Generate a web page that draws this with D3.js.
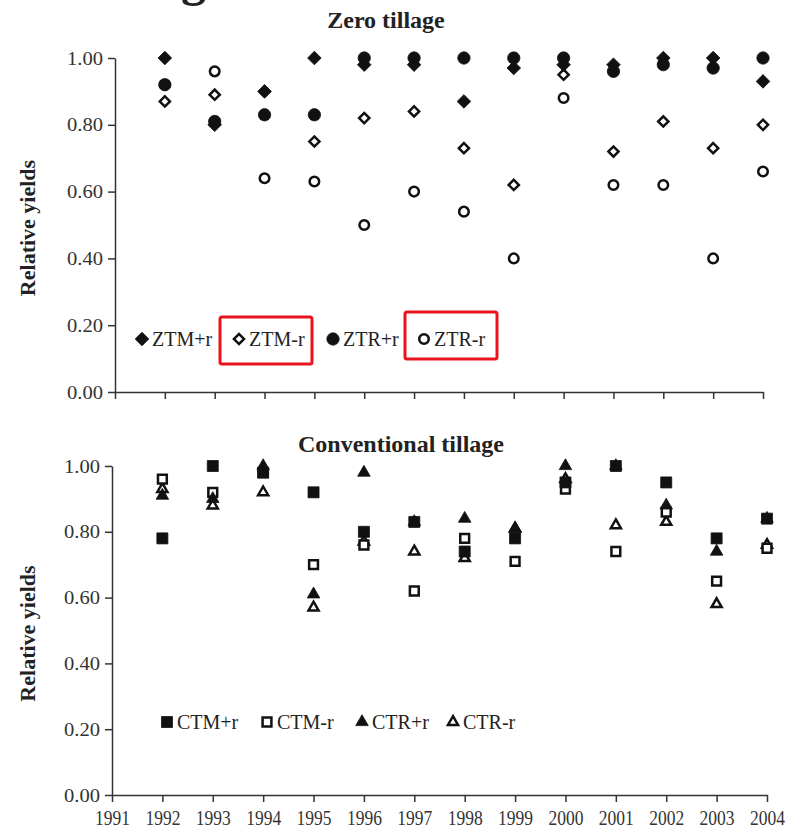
<!DOCTYPE html>
<html>
<head>
<meta charset="utf-8">
<script src="https://cdn.jsdelivr.net/npm/d3@7"></script>
<style>
  body { margin: 0; background: #fff; }
  svg { display: block; }
  text { font-family: "Liberation Serif", "Times New Roman", serif; fill: #222; }
  .axis path, .axis line { stroke: #333; stroke-width: 1.5; }
  .axis text { font-family: "Liberation Serif", serif; fill: #333; }
</style>
</head>
<body>
<div id="chart"></div>
<script>
// years on the x axis
var years = [1992, 1993, 1994, 1995, 1996, 1997, 1998, 1999, 2000, 2001, 2002, 2003, 2004];
var yTicks = [0, 0.2, 0.4, 0.6, 0.8, 1.0];

// zero tillage
var ztmPlus  = [1.00, 0.80, 0.90, 1.00, 0.98, 0.98, 0.87, 0.97, 0.98, 0.98, 1.00, 1.00, 0.93];
var ztmMinus = [0.87, 0.89, 0.90, 0.75, 0.82, 0.84, 0.73, 0.62, 0.95, 0.72, 0.81, 0.73, 0.80];
var ztrPlus  = [0.92, 0.81, 0.83, 0.83, 1.00, 1.00, 1.00, 1.00, 1.00, 0.96, 0.98, 0.97, 1.00];
var ztrMinus = [0.92, 0.96, 0.64, 0.63, 0.50, 0.60, 0.54, 0.40, 0.88, 0.62, 0.62, 0.40, 0.66];

// conventional tillage
var ctmPlus  = [0.78, 1.00, 0.98, 0.92, 0.80, 0.83, 0.74, 0.78, 0.95, 1.00, 0.95, 0.78, 0.84];
var ctmMinus = [0.96, 0.92, 0.98, 0.70, 0.76, 0.62, 0.78, 0.71, 0.93, 0.74, 0.86, 0.65, 0.75];
var ctrPlus  = [0.91, 0.90, 1.00, 0.61, 0.98, 0.83, 0.84, 0.81, 1.00, 1.00, 0.88, 0.74, 0.84];
var ctrMinus = [0.93, 0.88, 0.92, 0.57, 0.77, 0.74, 0.72, 0.81, 0.96, 0.82, 0.83, 0.58, 0.76];

var width = 786, height = 831;
var svg = d3.select("#chart").append("svg").attr("width", width).attr("height", height);

// marker styles
var markers = {
  diamondFilled: {type: d3.symbolSquare, size: 92, rotate: 45, fill: "#111"},
  diamondOpen:   {type: d3.symbolSquare, size: 52, rotate: 45, fill: "#fff"},
  circleFilled:  {type: d3.symbolCircle, size: 120, rotate: 0, fill: "#111"},
  circleOpen:    {type: d3.symbolCircle, size: 72, rotate: 0, fill: "#fff"},
  squareFilled:  {type: d3.symbolSquare, size: 121, rotate: 0, fill: "#111"},
  squareOpen:    {type: d3.symbolSquare, size: 78, rotate: 0, fill: "#fff"},
  triFilled:     {type: d3.symbolTriangle, size: 68, rotate: 0, fill: "#111"},
  triOpen:       {type: d3.symbolTriangle, size: 44, rotate: 0, fill: "#fff"}
};

function drawMarker(g, m, x, y) {
  g.append("path")
    .attr("d", d3.symbol().type(m.type).size(m.size)())
    .attr("transform", "translate(" + x + "," + y + ") rotate(" + m.rotate + ")")
    .attr("fill", m.fill)
    .attr("stroke", "#111")
    .attr("stroke-width", m.fill === "#fff" ? 2.5 : 0.8);
}

function panel(opt) {
  var x = d3.scaleLinear().domain([1991, 2004]).range([opt.left, opt.right]);
  var y = d3.scaleLinear().domain([0, 1]).range([opt.bottom, opt.top]);
  var g = svg.append("g");

  // axes
  var yAxis = d3.axisLeft(y).tickValues(yTicks).tickFormat(d3.format(".2f"))
    .tickSize(7).tickSizeOuter(0).tickPadding(5);
  var gy = g.append("g").attr("class", "axis").attr("transform", "translate(" + opt.left + ",0)").call(yAxis);
  gy.selectAll("text").attr("font-size", 19).attr("textLength", 36).attr("lengthAdjust", "spacingAndGlyphs");

  var xAxis = d3.axisBottom(x).tickValues([1991].concat(years)).tickSize(7).tickSizeOuter(0).tickPadding(9)
    .tickFormat(opt.showYears ? d3.format("d") : "");
  var gx = g.append("g").attr("class", "axis").attr("transform", "translate(0," + opt.bottom + ")").call(xAxis);
  gx.selectAll("text").attr("font-size", 20).attr("textLength", 35).attr("lengthAdjust", "spacingAndGlyphs");

  // titles
  g.append("text").attr("x", opt.titleX).attr("y", opt.titleY).attr("text-anchor", "middle")
    .attr("font-weight", "bold").attr("font-size", 24).text(opt.title);
  g.append("text").attr("transform", "translate(35," + ((opt.top + opt.bottom) / 2 + 3) + ") rotate(-90)")
    .attr("text-anchor", "middle").attr("font-weight", "bold").attr("font-size", 22).text("Relative yields");

  // points: open series first, filled on top
  opt.series.forEach(function(s) {
    s.values.forEach(function(v, i) {
      if (v == null) return;
      drawMarker(g, markers[s.marker], x(years[i]), y(v));
    });
  });

  // legend
  var legendItems = opt.series.slice().sort(function(a, b) { return a.legendOrder - b.legendOrder; });
  legendItems.forEach(function(s, i) {
    var lx = opt.legendX[i];
    drawMarker(g, markers[s.marker], lx, opt.legendY);
    g.append("text").attr("x", lx + 10).attr("y", opt.legendY + 7).attr("font-size", 20).text(s.name);
    if (s.boxed) {
      g.append("rect")
        .attr("x", lx - 19).attr("y", opt.legendY - 22 - s.boxShift)
        .attr("width", 92).attr("height", 47)
        .attr("rx", 2)
        .attr("fill", "none").attr("stroke", "#e8141c").attr("stroke-width", 3);
    }
  });
}

// cropped heading fragment at the very top
svg.append("text").attr("x", 181).attr("y", -5).attr("font-size", 50).attr("font-weight", "bold").text("g");

panel({
  left: 115, right: 763, top: 58, bottom: 392,
  title: "Zero tillage", titleX: 386, titleY: 28, showYears: false,
  legendX: [142, 239, 333, 424], legendY: 339,
  series: [
    {name: "ZTR-r", values: ztrMinus, marker: "circleOpen", legendOrder: 3, boxed: true, boxShift: 5},
    {name: "ZTM-r", values: ztmMinus, marker: "diamondOpen", legendOrder: 1, boxed: true, boxShift: 0},
    {name: "ZTR+r", values: ztrPlus, marker: "circleFilled", legendOrder: 2},
    {name: "ZTM+r", values: ztmPlus, marker: "diamondFilled", legendOrder: 0}
  ]
});

panel({
  left: 112, right: 767, top: 466, bottom: 795,
  title: "Conventional tillage", titleX: 401, titleY: 452, showYears: true,
  legendX: [167, 267, 362, 453], legendY: 722,
  series: [
    {name: "CTR-r", values: ctrMinus, marker: "triOpen", legendOrder: 3},
    {name: "CTM-r", values: ctmMinus, marker: "squareOpen", legendOrder: 1},
    {name: "CTR+r", values: ctrPlus, marker: "triFilled", legendOrder: 2},
    {name: "CTM+r", values: ctmPlus, marker: "squareFilled", legendOrder: 0}
  ]
});
</script>
</body>
</html>
